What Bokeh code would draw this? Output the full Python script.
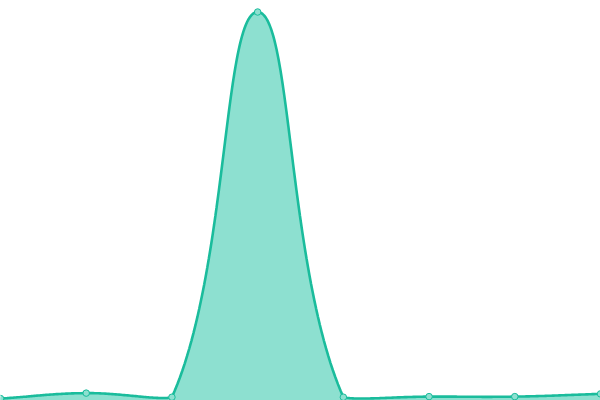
import math
from bokeh.plotting import figure
from bokeh.models import Range1d
from bokeh.embed import file_html
from bokeh.resources import INLINE

# data
labels = ["1", "2", "3", "4", "5", "6", "7", "8"]
values = [0.5, 1.9, 0.85, 100.0, 0.85, 1.0, 1.0, 1.7]

W, H = 600, 400
XMAX = len(values) - 1
YMAX = 100.0 * 400.0 / 388.5
TENSION = 0.4

sx = W / XMAX
sy = H / YMAX

def to_px(x, y):
    return x * sx, H - y * sy

def to_data(px, py):
    return px / sx, (H - py) / sy

pts = [to_px(i, v) for i, v in enumerate(values)]
n = len(pts)
ctrl = []
for i in range(n):
    p1 = pts[i]
    p0 = pts[i - 1] if i > 0 else p1
    p2 = pts[i + 1] if i < n - 1 else p1
    d01 = math.hypot(p1[0] - p0[0], p1[1] - p0[1])
    d12 = math.hypot(p2[0] - p1[0], p2[1] - p1[1])
    s01 = d01 / (d01 + d12) if (d01 + d12) else 0
    s12 = d12 / (d01 + d12) if (d01 + d12) else 0
    fa = TENSION * s01
    fb = TENSION * s12
    prev = [p1[0] - fa * (p2[0] - p0[0]), p1[1] - fa * (p2[1] - p0[1])]
    nxt = [p1[0] + fb * (p2[0] - p0[0]), p1[1] + fb * (p2[1] - p0[1])]
    for c in (prev, nxt):
        c[0] = min(max(c[0], 0), W)
        c[1] = min(max(c[1], 0), H)
    ctrl.append((prev, nxt))

cx, cy = [], []
steps = 60
for i in range(n - 1):
    a = pts[i]
    b = ctrl[i][1]
    c = ctrl[i + 1][0]
    d = pts[i + 1]
    for k in range(steps + (1 if i == n - 2 else 0)):
        t = k / steps
        mt = 1 - t
        px = mt**3 * a[0] + 3 * mt**2 * t * b[0] + 3 * mt * t**2 * c[0] + t**3 * d[0]
        py = mt**3 * a[1] + 3 * mt**2 * t * b[1] + 3 * mt * t**2 * c[1] + t**3 * d[1]
        xd, yd = to_data(px, py)
        cx.append(xd)
        cy.append(yd)

p = figure(width=W, height=H, x_range=Range1d(0, XMAX), y_range=Range1d(0, YMAX),
           toolbar_location=None, output_backend="svg", min_border=0)
p.axis.visible = False
p.grid.visible = False
p.outline_line_color = None
p.background_fill_color = "white"
p.border_fill_color = "white"

LINE = "#1abc9c"
FILL = "#8de0d0"

p.patch(cx + [cx[-1], cx[0]], cy + [0, 0], fill_color=FILL, line_color=None)
p.line(cx, cy, line_color=LINE, line_width=2.6)
p.scatter(list(range(n)), values, size=6.5, fill_color=FILL, line_color=LINE, line_width=1)

open("out.html", "w").write(file_html(p, INLINE))
